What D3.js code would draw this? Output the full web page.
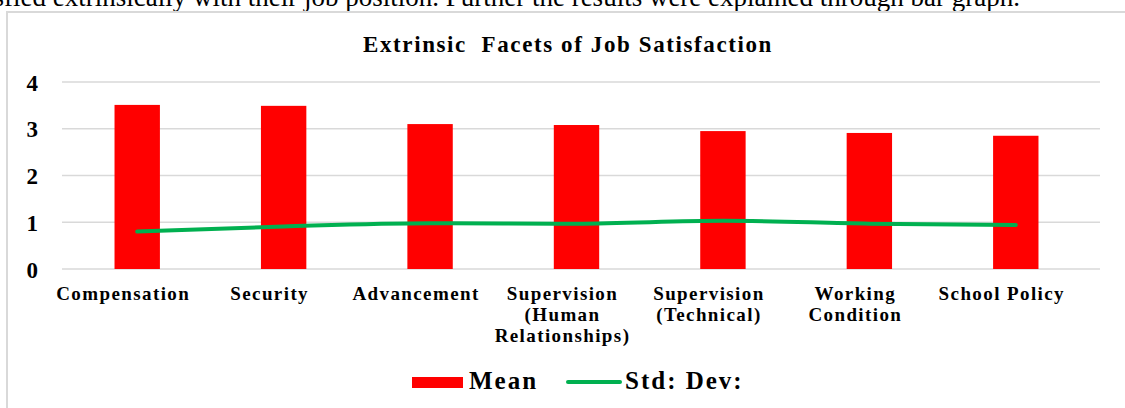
<!DOCTYPE html>
<html>
<head>
<meta charset="utf-8">
<script src="https://cdn.jsdelivr.net/npm/d3@7"></script>
<style>
  body { margin: 0; background: #fff; }
  .chart text { font-family: "Liberation Serif", "Times New Roman", serif; }
</style>
</head>
<body>
<div class="chart"></div>
<script>
var svgWidth = 1125;
var svgHeight = 408;

// chart data
var categories = ["Compensation", "Security", "Advancement", "Supervision (Human Relationships)",
  "Supervision (Technical)", "Working Condition", "School Policy"];
var labelLines = [["Compensation"], ["Security"], ["Advancement"], ["Supervision", "(Human", "Relationships)"],
  ["Supervision", "(Technical)"], ["Working", "Condition"], ["School Policy"]];
var meanValues = [3.51, 3.49, 3.10, 3.08, 2.95, 2.91, 2.85];
var stdValues = [0.80, 0.91, 0.98, 0.97, 1.03, 0.97, 0.94];
var yTicks = [0, 1, 2, 3, 4];

var svg = d3.select(".chart")
  .append("svg")
  .attr("width", svgWidth)
  .attr("height", svgHeight);

// cut off sentence from the page above the chart
svg.append("text")
  .attr("x", 1020)
  .attr("y", 6)
  .attr("text-anchor", "end")
  .style("font-size", "27px")
  .text("satisfied extrinsically with their job position. Further the results were explained through bar graph.");

// chart area border
svg.append("rect")
  .attr("x", 7)
  .attr("y", 12)
  .attr("width", 1140)
  .attr("height", 420)
  .attr("fill", "none")
  .attr("stroke", "#d9d9d9")
  .attr("stroke-width", 2);

var xScale = d3.scaleBand()
  .domain(categories)
  .range([64, 1089])
  .paddingInner(0.69)
  .paddingOuter(0.345);

var yScale = d3.scaleLinear()
  .domain([0, 4])
  .range([269, 82]);

// gridlines
svg.append("g")
  .selectAll("line")
  .data(yTicks)
  .enter().append("line")
    .attr("x1", 62)
    .attr("x2", 1100)
    .attr("y1", function(d) { return yScale(d); })
    .attr("y2", function(d) { return yScale(d); })
    .attr("stroke", "#d9d9d9")
    .attr("stroke-width", 1.5);

// y axis labels
var leftAxis = d3.axisLeft(yScale)
  .tickValues(yTicks)
  .tickFormat(d3.format("d"))
  .tickSize(0)
  .tickPadding(0);
var yAxis = svg.append("g")
  .attr("transform", "translate(38,0)")
  .call(leftAxis);
yAxis.select(".domain").remove();
yAxis.selectAll("text")
  .attr("dy", "0.35em")
  .style("font-size", "23px")
  .style("font-weight", "bold")
  .attr("fill", "#000");

// bars
svg.append("g")
  .selectAll("rect")
  .data(meanValues)
  .enter().append("rect")
    .attr("x", function(d, i) { return xScale(categories[i]); })
    .attr("y", function(d) { return yScale(d); })
    .attr("width", xScale.bandwidth())
    .attr("height", function(d) { return yScale(0) - yScale(d); })
    .attr("fill", "#ff0000");

// std dev line
var line = d3.line()
  .x(function(d, i) { return xScale(categories[i]) + xScale.bandwidth() / 2; })
  .y(function(d) { return yScale(d); })
  .curve(d3.curveMonotoneX);

svg.append("path")
  .datum(stdValues)
  .attr("d", line)
  .attr("fill", "none")
  .attr("stroke", "#00b050")
  .attr("stroke-width", 4)
  .attr("stroke-linecap", "round");

// category labels
var xLabels = svg.append("g")
  .selectAll("text")
  .data(categories)
  .enter().append("text")
    .attr("x", function(d) { return xScale(d) + xScale.bandwidth() / 2 - 14; })
    .attr("y", 300)
    .attr("text-anchor", "middle")
    .style("font-size", "19px")
    .style("font-weight", "bold")
    .style("letter-spacing", "1.4px");

xLabels.selectAll("tspan")
  .data(function(d, i) { return labelLines[i]; })
  .enter().append("tspan")
    .attr("x", function() { return d3.select(this.parentNode).attr("x"); })
    .attr("dy", function(d, i) { return i === 0 ? 0 : 21; })
    .text(function(d) { return d; });

// title
svg.append("text")
  .attr("x", 568)
  .attr("y", 52)
  .attr("text-anchor", "middle")
  .attr("xml:space", "preserve")
  .style("white-space", "pre")
  .style("font-size", "23px")
  .style("font-weight", "bold")
  .style("letter-spacing", "1.6px")
  .text("Extrinsic  Facets of Job Satisfaction");

// legend
var legend = svg.append("g");
legend.append("rect")
  .attr("x", 412)
  .attr("y", 377)
  .attr("width", 51)
  .attr("height", 11)
  .attr("fill", "#ff0000");
legend.append("text")
  .attr("x", 469)
  .attr("y", 389)
  .style("font-size", "25px")
  .style("font-weight", "bold")
  .style("letter-spacing", "2px")
  .text("Mean");
legend.append("line")
  .attr("x1", 568)
  .attr("x2", 620)
  .attr("y1", 382)
  .attr("y2", 382)
  .attr("stroke", "#00b050")
  .attr("stroke-width", 4)
  .attr("stroke-linecap", "round");
legend.append("text")
  .attr("x", 625)
  .attr("y", 389)
  .style("font-size", "25px")
  .style("font-weight", "bold")
  .style("letter-spacing", "2px")
  .text("Std: Dev:");
</script>
</body>
</html>
